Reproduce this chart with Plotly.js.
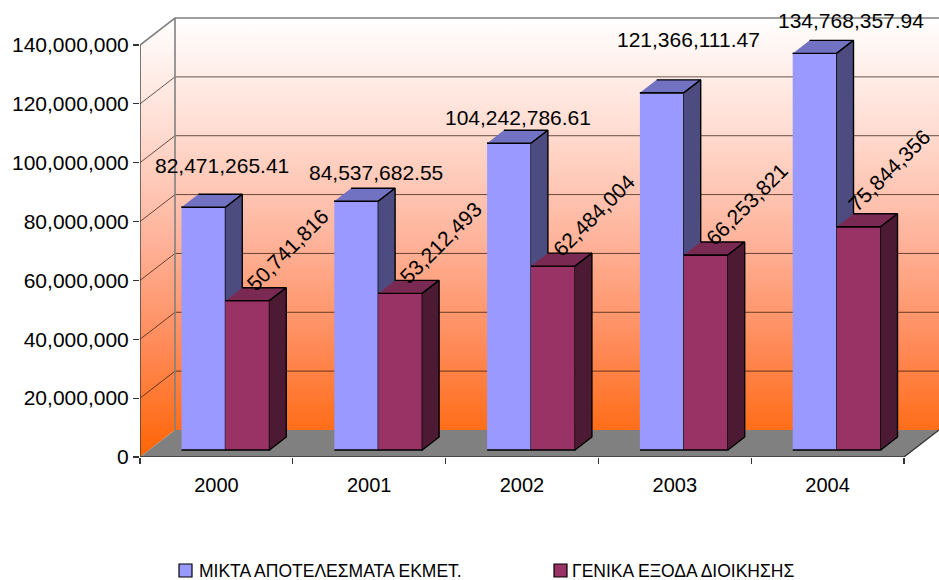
<!DOCTYPE html>
<html><head><meta charset="utf-8">
<script src="https://cdn.plot.ly/plotly-3.0.1.min.js"></script>
<style>html,body{margin:0;padding:0;background:#fff;overflow:hidden}</style>
</head><body><div id="chart" style="width:939px;height:580px"></div>
<script>
// ---------------- data ----------------
const years = ['2000', '2001', '2002', '2003', '2004'];
const seriesNames = ['ΜΙΚΤΑ ΑΠΟΤΕΛΕΣΜΑΤΑ ΕΚΜΕΤ.', 'ΓΕΝΙΚΑ ΕΞΟΔΑ ΔΙΟΙΚΗΣΗΣ'];
const grossResults = [82471265.41, 84537682.55, 104242786.61, 121366111.47, 134768357.94];
const adminExpenses = [50741816, 53212493, 62484004, 66253821, 75844356];
const yTicks = [0, 20000000, 40000000, 60000000, 80000000, 100000000, 120000000, 140000000];

// ---------------- layout / style constants ----------------
const W = 939, H = 580;
const FRONT = {x0: 140, x1: 904, y0: 457, y1: 45};   // front plane of the 3D box (px)
const DEPTH = {x: 35, y: 27};                        // depth offset of back wall (px)
const TOP_PX = 14;
const M = {l: FRONT.x0, r: 0, t: TOP_PX, b: H - FRONT.y0};
const yMax = yTicks[yTicks.length - 1];
const xPerPx = years.length / (FRONT.x1 - FRONT.x0);
const vPerPx = yMax / (FRONT.y0 - FRONT.y1);
const DX = DEPTH.x * xPerPx, DY = DEPTH.y * vPerPx;
const xRange = [-0.5, -0.5 + (W - FRONT.x0) * xPerPx];
const yRange = [0, (FRONT.y0 - TOP_PX) * vPerPx];
const BAR_W = 44 * xPerPx;
const F0 = 0.26, F1 = 0.74;   // bar front/back depth fractions

const seriesStyle = [
  {front: '#9999FF', top: '#7272C2', side: '#4C4C80'},
  {front: '#993366', top: '#7A2A52', side: '#4D1A33'}
];
const FONT = 'Liberation Sans, Arial, sans-serif';
const wallScale = [[0, '#FF6404'], [0.25, '#FF8A58'], [0.5, '#FFB49C'], [0.75, '#FFDDD2'], [1, '#FFFFFF']];
// label offsets (px) relative to the bar top
const blueLabelShift = [[10, 42], [11, 29], [0, 26], [18, 53], [28, 33]];
const redLabelShift = [[32, 51], [32, 51], [32, 51], [32, 51], [22, 56]];

function fmt(v, dec) {
  return v.toLocaleString('en-US', {minimumFractionDigits: dec, maximumFractionDigits: dec});
}

const traces = [];
// back wall
traces.push({
  x: [-0.5 + DX, xRange[1] + 0.05, xRange[1] + 0.05, -0.5 + DX],
  y: [DY, DY, yMax + DY, yMax + DY],
  mode: 'lines', fill: 'toself', line: {width: 0},
  fillgradient: {type: 'vertical', start: 0, stop: yMax + DY, colorscale: wallScale},
  hoverinfo: 'skip', showlegend: false
});
// left wall
traces.push({
  x: [-0.5, -0.5 + DX, -0.5 + DX, -0.5],
  y: [0, DY, yMax + DY, yMax],
  mode: 'lines', fill: 'toself', line: {width: 0},
  fillgradient: {type: 'vertical', start: 0, stop: yMax + DY, colorscale: wallScale},
  hoverinfo: 'skip', showlegend: false
});
// floor
const nCat = years.length;
traces.push({
  x: [-0.5, nCat - 0.5, nCat - 0.5 + DX, -0.5 + DX],
  y: [0, 0, DY, DY],
  mode: 'lines', fill: 'toself', fillcolor: '#808080', line: {width: 0},
  hoverinfo: 'skip', showlegend: false
});
// gridlines (left wall diagonals + back wall)
const gx = [], gy = [];
yTicks.slice(1, -1).forEach(v => {
  gx.push(-0.5, -0.5 + DX, xRange[1] + 0.05, null);
  gy.push(v, v + DY, v + DY, null);
});
traces.push({x: gx, y: gy, mode: 'lines', line: {color: 'rgba(40,20,10,0.7)', width: 1},
  hoverinfo: 'skip', showlegend: false});
// wall borders (gray)
traces.push({
  x: [-0.5, -0.5 + DX, xRange[1] + 0.05, null, -0.5 + DX, -0.5 + DX],
  y: [yMax, yMax + DY, yMax + DY, null, yMax + DY, DY],
  mode: 'lines', line: {color: '#808080', width: 1.6}, hoverinfo: 'skip', showlegend: false
});
// front axis edges
traces.push({
  x: [-0.5, -0.5, nCat - 0.5, nCat - 0.5 + DX],
  y: [yMax, 0, 0, DY],
  mode: 'lines', line: {color: '#333333', width: 1.3}, hoverinfo: 'skip', showlegend: false
});

// bars
const series = [grossResults, adminExpenses];
function face(xs, ys, color, name) {
  traces.push({x: xs, y: ys, mode: 'lines', fill: 'toself', fillcolor: color,
    line: {color: '#000000', width: 1.4}, hoverinfo: 'skip', showlegend: false, name: name});
}
years.forEach((yr, i) => {
  series.forEach((vals, s) => {
    const v = vals[i];
    const x0 = i - BAR_W + s * BAR_W, x1 = x0 + BAR_W;
    const st = seriesStyle[s];
    const a0 = F0 * DX, b0 = F0 * DY, a1 = F1 * DX, b1 = F1 * DY;
    face([x0 + a0, x1 + a0, x1 + a0, x0 + a0], [b0, b0, v + b0, v + b0], st.front, seriesNames[s]);
    face([x0 + a0, x1 + a0, x1 + a1, x0 + a1], [v + b0, v + b0, v + b1, v + b1], st.top, seriesNames[s]);
    face([x1 + a0, x1 + a1, x1 + a1, x1 + a0], [b0, b1, v + b1, v + b0], st.side, seriesNames[s]);
  });
});

// value labels
const annotations = [];
years.forEach((yr, i) => {
  series.forEach((vals, s) => {
    const v = vals[i];
    const x0 = i - BAR_W + s * BAR_W, x1 = x0 + BAR_W;
    const cx = (x0 + x1) / 2 + (F0 + F1) / 2 * DX;
    const ty = v + F0 * DY;
    if (s === 0) {
      annotations.push({x: cx, y: ty, xref: 'x', yref: 'y', text: fmt(v, 2), showarrow: false,
        xanchor: 'center', yanchor: 'middle', xshift: blueLabelShift[i][0], yshift: blueLabelShift[i][1],
        font: {family: FONT, size: 21, color: '#000'}});
    } else {
      annotations.push({x: cx, y: ty, xref: 'x', yref: 'y', text: fmt(v, 0), showarrow: false,
        xanchor: 'center', yanchor: 'middle', textangle: -45,
        xshift: redLabelShift[i][0], yshift: redLabelShift[i][1],
        font: {family: FONT, size: 21, color: '#000'}});
    }
  });
});

// custom legend (paper coords from px)
const plotW = W - M.l - M.r, plotH = H - M.t - M.b;
const px2x = px => (px - M.l) / plotW;
const py2y = py => (H - M.b - py) / plotH;
const legendItems = [{sq: 179, txt: 197}, {sq: 554, txt: 570}];
const shapes = [];
legendItems.forEach((it, s) => {
  shapes.push({type: 'rect', xref: 'paper', yref: 'paper',
    x0: px2x(it.sq), x1: px2x(it.sq + 13), y0: py2y(577), y1: py2y(564),
    fillcolor: seriesStyle[s].front, line: {color: '#000', width: 1.2}});
  annotations.push({xref: 'paper', yref: 'paper', x: px2x(it.txt), y: py2y(570.5),
    xanchor: 'left', yanchor: 'middle', showarrow: false, text: seriesNames[s],
    font: {family: FONT, size: 17.5, color: '#000'}});
});

const layout = {
  width: W, height: H,
  margin: M,
  paper_bgcolor: '#ffffff', plot_bgcolor: 'rgba(0,0,0,0)',
  showlegend: false,
  xaxis: {
    range: xRange, showgrid: false, zeroline: false, showline: false,
    tickmode: 'array', tickvals: years.map((_, i) => i), ticktext: years, ticks: '',
    ticklabelstandoff: 14,
    tickfont: {family: FONT, size: 20, color: '#000'},
    minor: {tickmode: 'array', tickvals: years.map((_, i) => i - 0.5).concat([nCat - 0.5]),
      ticks: 'outside', ticklen: 6, tickcolor: '#333', tickwidth: 1.2, showgrid: false},
    fixedrange: true
  },
  yaxis: {
    range: yRange, showgrid: false, zeroline: false, showline: false,
    tickmode: 'array', tickvals: yTicks, tickformat: ',.0f',
    ticks: 'outside', ticklen: 6, tickcolor: '#333', tickwidth: 1.2,
    tickfont: {family: FONT, size: 21, color: '#000'},
    fixedrange: true
  },
  annotations: annotations,
  shapes: shapes
};

Plotly.newPlot('chart', traces, layout, {staticPlot: true, displayModeBar: false});
</script>
</body></html>
